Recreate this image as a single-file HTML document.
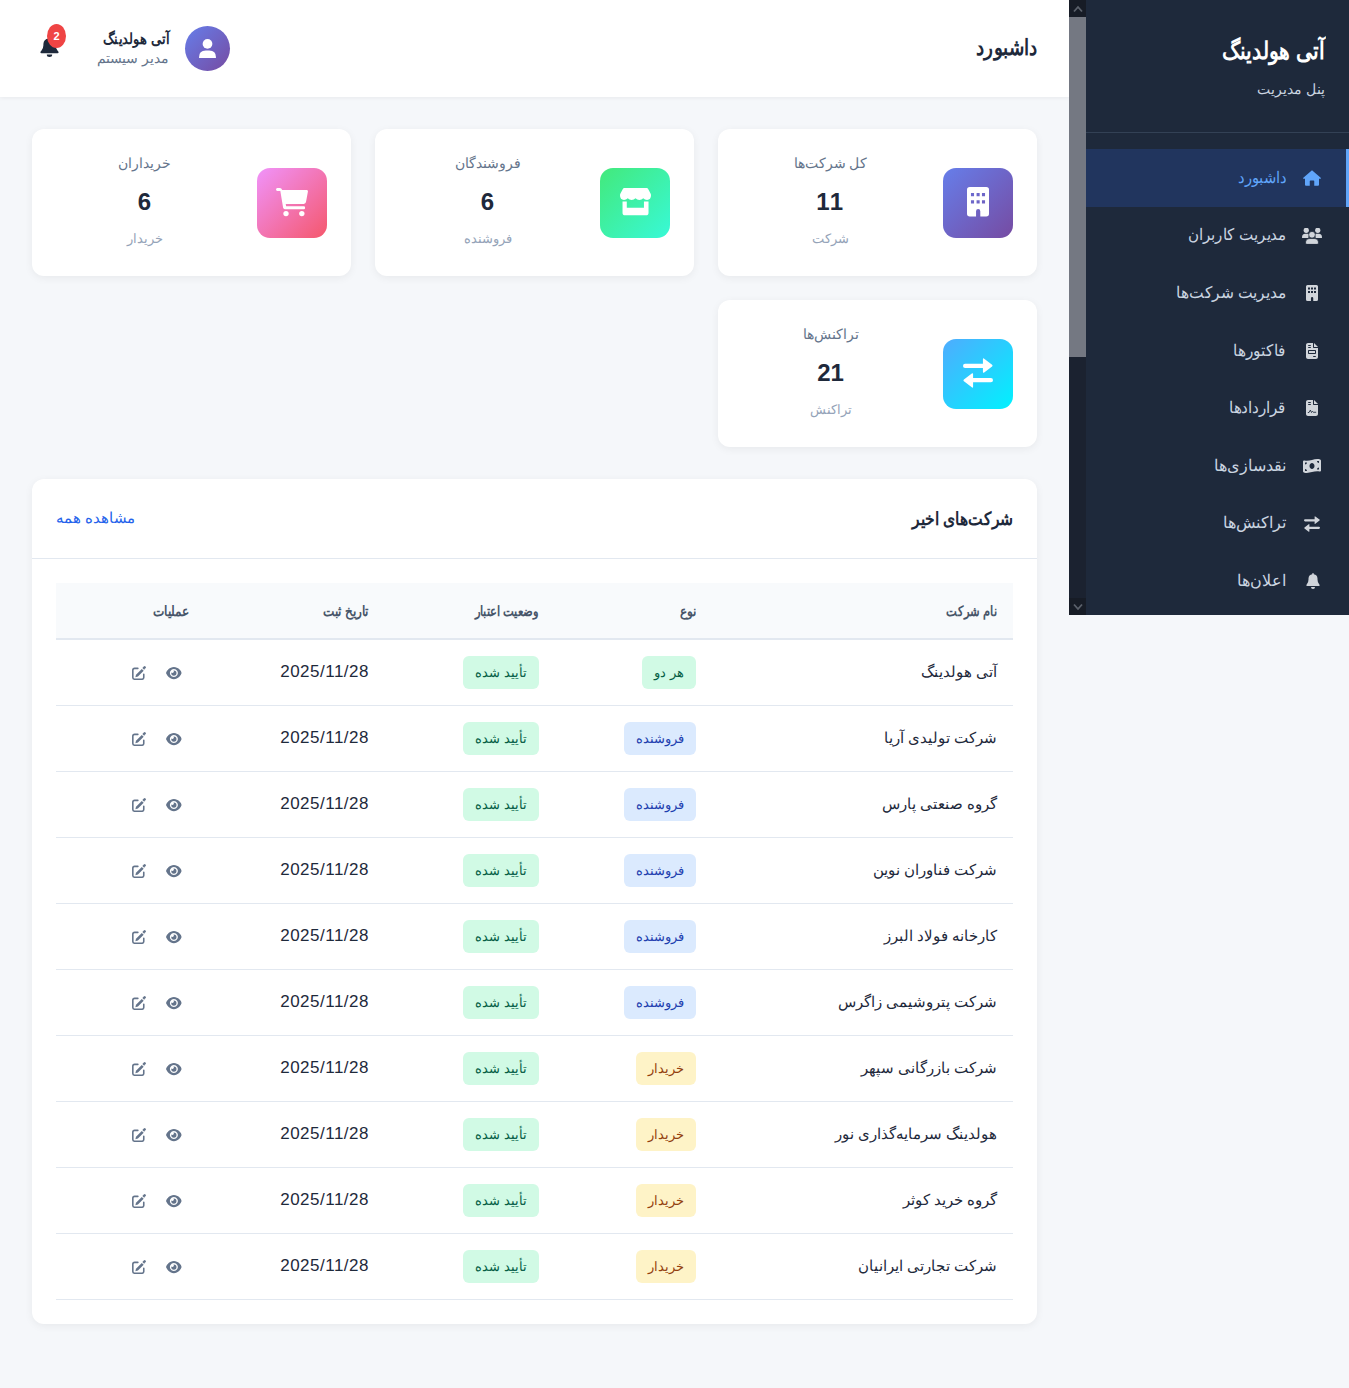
<!DOCTYPE html>
<html lang="fa" dir="rtl">
<head>
<meta charset="utf-8">
<title>داشبورد</title>
<style>
*{box-sizing:border-box;margin:0;padding:0}
html,body{width:1349px;height:1388px;overflow:hidden}
body{background:#f5f7fa;font-family:"Liberation Sans",sans-serif;color:#1e293b;position:relative;direction:rtl}
svg{display:block}
.sx{display:inline-block;transform-origin:100% 50%}
/* sidebar */
.sidebar{position:absolute;left:1086px;top:0;width:263px;height:615px;background:#1e293b;color:#cbd5e1}
.sb-title{position:absolute;right:24px;top:33px;font-size:24px;font-weight:bold;color:#fff;line-height:36px;white-space:nowrap}
.sb-sub{position:absolute;right:24px;top:77px;font-size:14px;color:#cbd5e1;line-height:24px;white-space:nowrap}
.sb-line{position:absolute;left:0;right:0;top:132px;height:1px;background:#334155}
.menu{position:absolute;left:0;right:0;top:149px}
.mi{height:57.6px;position:relative;font-size:16px;color:#cbd5e1;white-space:nowrap}
.mi svg{position:absolute;fill:#d1d5db}
.mi .tx{position:absolute;right:63px;top:50%;transform:translateY(-50%);line-height:24px}
.mi.active{background:#21355e;color:#60a5fa}
.mi.active svg{fill:#60a5fa}
.mi.active:after{content:"";position:absolute;right:0;top:0;bottom:0;width:3px;background:#60a5fa}
.scroll{position:absolute;left:1069px;top:0;width:17px;height:615px;background:#1b2230}
.scroll .up,.scroll .dn{position:absolute;left:0;width:17px;height:17px;background:#171c26}
.scroll .up{top:0}.scroll .dn{bottom:0}
.scroll svg{position:absolute;left:3.5px;top:4.5px;width:10px;height:8px}
.scroll .thumb{position:absolute;left:0;top:17px;width:17px;height:340px;background:#747882}
/* header */
.header{position:absolute;left:0;top:0;width:1069px;height:97px;background:#fff;box-shadow:0 1px 4px rgba(0,0,0,0.06)}
.h-title{position:absolute;right:32px;top:31px;font-size:22px;font-weight:bold;color:#1e293b;line-height:34px;white-space:nowrap}
.avatar{position:absolute;left:185px;top:26px;width:45px;height:45px;border-radius:50%;background:linear-gradient(135deg,#667eea,#764ba2)}
.avatar svg{position:absolute;left:13.6px;top:12.6px;width:17px;height:19.5px;fill:#fff}
.uname{position:absolute;right:900px;top:27px;font-size:15px;font-weight:bold;line-height:24px;white-space:nowrap}
.urole{position:absolute;right:900px;top:46px;font-size:14px;color:#64748b;line-height:24px;white-space:nowrap}
.bell{position:absolute;left:40px;top:36.7px;width:19px;height:20px;fill:#1e293b}
.badge{position:absolute;left:47px;top:24px;width:19px;height:24px;border-radius:50%;background:#ef4444;color:#fff;font-size:11px;font-weight:bold;line-height:24px;text-align:center}
/* stat cards */
.card{position:absolute;background:#fff;border-radius:12px;box-shadow:0 2px 8px rgba(0,0,0,0.06)}
.stat{width:319px;height:147px}
.stat .icon{position:absolute;right:24px;top:39px;width:70px;height:70px;border-radius:13px}
.stat .icon svg{position:absolute;fill:#fff}
.stat .txt{position:absolute;left:24px;right:118px;top:0;bottom:0;text-align:center}
.stat .lbl{position:absolute;left:0;right:0;top:22px;font-size:14px;color:#64748b;line-height:24px;white-space:nowrap}
.stat .num{position:absolute;left:0;right:0;top:55px;font-size:24px;font-weight:bold;color:#1e293b;line-height:36px}
.stat .sub{position:absolute;left:0;right:0;top:98px;font-size:13px;color:#94a3b8;line-height:24px;white-space:nowrap}
/* table card */
.tcard{left:32px;top:479px;width:1005px;height:845px}
.tc-head{position:absolute;left:0;right:0;top:0;height:80px;border-bottom:1px solid #e2e8f0}
.tc-title{position:absolute;right:24px;top:26px;font-size:18px;font-weight:bold;line-height:28px;white-space:nowrap}
.tc-link{position:absolute;left:24px;top:27px;font-size:14.5px;color:#2563eb;line-height:24px;white-space:nowrap}
table{position:absolute;left:24px;top:104px;width:957px;border-collapse:collapse;table-layout:fixed}
th{background:#f8fafc;height:56px;font-size:14px;font-weight:bold;color:#475569;text-align:right;padding:0 16px;border-bottom:2px solid #e2e8f0;white-space:nowrap}
th .sx{transform:scaleX(0.86)}
td{height:66px;font-size:15px;color:#1e293b;text-align:right;padding:0 16px;border-bottom:1px solid #e2e8f0;white-space:nowrap}
.bd{display:inline-block;height:33px;line-height:33px;padding:0 12px;border-radius:6px;font-size:13px;vertical-align:middle}
.g{background:#d1fae5;color:#065f46}
.b{background:#dbeafe;color:#1e40af}
.y{background:#fef3c7;color:#92400e}
td.date{font-size:17px;color:#1e293b;letter-spacing:0.5px}
td.opc{position:relative}
.opc svg{position:absolute;fill:#64748b}
.opc .eye{left:110px;top:26px;width:15.75px;height:14px}
.opc .edit{left:76px;top:26px;width:14px;height:14px}
</style>
</head>
<body>
<svg width="0" height="0" style="position:absolute">
  <symbol id="i-eye" viewBox="0 0 576 512"><path fill-rule="evenodd" d="M288 32C208 32 144 68 97 112C50 155 19 207 4 243C1 251 1 261 4 269C19 305 50 357 97 400C144 444 208 480 288 480C368 480 432 444 479 400C526 357 557 305 572 269C575 261 575 251 572 243C557 207 526 155 479 112C432 68 368 32 288 32ZM288 112A144 144 0 1 0 288.1 112Z"/><path d="M288 160A96 96 0 1 1 192 256C192 250 193 245 194 240C204 250 218 256 234 256C264 256 288 232 288 202C288 186 282 172 272 162C277 161 283 160 288 160Z"/></symbol>
  <symbol id="i-edit" viewBox="0 0 512 512"><path d="M214 88H98Q30 88 30 156V416Q30 484 98 484H362Q430 484 430 416V300" fill="none" stroke="#64748b" stroke-width="58" stroke-linecap="round"/><path d="M122 412L146 316L356 106L428 178L218 388Z"/><path d="M380 70L430 20Q462 -12 494 20Q526 52 494 84L444 134Z"/></symbol>
</svg>

<div class="header">
  <div class="h-title"><span class="sx" style="transform:scaleX(0.835)">داشبورد</span></div>
  <div class="avatar"><svg viewBox="0 0 448 512"><circle cx="224" cy="128" r="128"/><path d="M30 512H418Q448 512 448 482Q448 304 270 304H178Q0 304 0 482Q0 512 30 512Z"/></svg></div>
  <div class="uname"><span class="sx" style="transform:scaleX(0.87)">آتی هولدینگ</span></div>
  <div class="urole">مدیر سیستم</div>
  <svg class="bell" viewBox="0 0 448 512" preserveAspectRatio="none"><path d="M224 0Q248 0 248 24V40Q360 58 368 176V208Q368 288 416 352L432 374Q450 408 414 416H34Q-2 408 16 374L32 352Q80 288 80 208V176Q88 58 200 40V24Q200 0 224 0Z"/><path d="M288 448Q288 512 224 512Q160 512 160 448Z"/></svg>
  <div class="badge">2</div>
</div>

<div class="card stat" style="left:718px;top:129px">
  <div class="icon" style="background:linear-gradient(135deg,#667eea,#764ba2)"><svg viewBox="0 0 384 512" style="left:24px;top:19.3px;width:22px;height:29.5px"><path fill-rule="evenodd" d="M48 0H336Q384 0 384 48V464Q384 512 336 512H232V420Q232 384 195 384Q158 384 158 420V512H48Q0 512 0 464V48Q0 0 48 0ZM69 102V158H123V102ZM167 102V158H221V102ZM261 102V158H315V102ZM69 229V285H123V229ZM167 229V285H221V229ZM261 229V285H315V229Z"/></svg></div>
  <div class="txt"><div class="lbl">کل شرکت‌ها</div><div class="num" style="letter-spacing:1.5px">11</div><div class="sub">شرکت</div></div>
</div>
<div class="card stat" style="left:375px;top:129px">
  <div class="icon" style="background:linear-gradient(135deg,#43e97b,#38f9d7)"><svg viewBox="0 0 576 512" style="left:20px;top:19.3px;width:31px;height:29px"><path d="M78 5H498Q510 5 518 16L570 110Q576 125 576 140Q576 226 502 226Q462 226 432 196Q402 226 360 226Q318 226 288 196Q258 226 216 226Q174 226 144 196Q114 226 74 226Q0 226 0 140Q0 125 6 110L58 16Q66 5 78 5Z"/><path d="M47 256H126V374H445V256H530V464Q530 512 482 512H95Q47 512 47 464Z"/></svg></div>
  <div class="txt"><div class="lbl">فروشندگان</div><div class="num">6</div><div class="sub">فروشنده</div></div>
</div>
<div class="card stat" style="left:32px;top:129px">
  <div class="icon" style="background:linear-gradient(135deg,#f093fb,#f5576c)"><svg viewBox="0 0 576 512" style="left:18.7px;top:19px;width:32px;height:30px"><path d="M24 5H70Q100 5 108 34L112 39H548Q580 39 574 70L540 258Q534 290 500 290H175L182 332H500Q524 332 524 358Q524 385 500 385H160Q135 385 128 360L78 58H24Q0 58 0 32Q0 5 24 5Z"/><circle cx="180" cy="464" r="48"/><circle cx="465" cy="464" r="48"/></svg></div>
  <div class="txt"><div class="lbl">خریداران</div><div class="num">6</div><div class="sub">خریدار</div></div>
</div>
<div class="card stat" style="left:718px;top:300px">
  <div class="icon" style="background:linear-gradient(135deg,#4facfe,#00f2fe)"><svg viewBox="0 0 512 512" style="left:19.8px;top:19px;width:30px;height:30px"><path d="M36 100H340V22Q340 -4 362 12L496 114Q512 129 496 144L362 246Q340 262 340 236V172H36Q0 172 0 136Q0 100 36 100Z"/><path d="M476 342H172V276Q172 250 150 266L16 368Q0 383 16 398L150 500Q172 516 172 490V414H476Q512 414 512 378Q512 342 476 342Z"/></svg></div>
  <div class="txt"><div class="lbl">تراکنش‌ها</div><div class="num">21</div><div class="sub">تراکنش</div></div>
</div>

<div class="card tcard">
  <div class="tc-head">
    <div class="tc-title"><span class="sx" style="transform:scaleX(0.86)">شرکت‌های اخیر</span></div>
    <div class="tc-link">مشاهده همه</div>
  </div>
  <table>
    <colgroup><col style="width:301px"><col style="width:157px"><col style="width:170px"><col style="width:180px"><col style="width:149px"></colgroup>
    <thead><tr><th><span class="sx" style="transform:scaleX(0.816)">نام شرکت</span></th><th><span class="sx">نوع</span></th><th><span class="sx" style="transform:scaleX(0.816)">وضعیت اعتبار</span></th><th><span class="sx">تاریخ ثبت</span></th><th><span class="sx">عملیات</span></th></tr></thead>
    <tbody>
<tr><td>آتی هولدینگ</td><td><span class="bd g">هر دو</span></td><td><span class="bd g">تأیید شده</span></td><td class="date">2025/11/28</td><td class="opc"><svg class="eye" viewBox="0 0 576 512"><use href="#i-eye"/></svg><svg class="edit" viewBox="0 0 512 512"><use href="#i-edit"/></svg></td></tr>
<tr><td>شرکت تولیدی آریا</td><td><span class="bd b">فروشنده</span></td><td><span class="bd g">تأیید شده</span></td><td class="date">2025/11/28</td><td class="opc"><svg class="eye" viewBox="0 0 576 512"><use href="#i-eye"/></svg><svg class="edit" viewBox="0 0 512 512"><use href="#i-edit"/></svg></td></tr>
<tr><td>گروه صنعتی پارس</td><td><span class="bd b">فروشنده</span></td><td><span class="bd g">تأیید شده</span></td><td class="date">2025/11/28</td><td class="opc"><svg class="eye" viewBox="0 0 576 512"><use href="#i-eye"/></svg><svg class="edit" viewBox="0 0 512 512"><use href="#i-edit"/></svg></td></tr>
<tr><td>شرکت فناوران نوین</td><td><span class="bd b">فروشنده</span></td><td><span class="bd g">تأیید شده</span></td><td class="date">2025/11/28</td><td class="opc"><svg class="eye" viewBox="0 0 576 512"><use href="#i-eye"/></svg><svg class="edit" viewBox="0 0 512 512"><use href="#i-edit"/></svg></td></tr>
<tr><td>کارخانه فولاد البرز</td><td><span class="bd b">فروشنده</span></td><td><span class="bd g">تأیید شده</span></td><td class="date">2025/11/28</td><td class="opc"><svg class="eye" viewBox="0 0 576 512"><use href="#i-eye"/></svg><svg class="edit" viewBox="0 0 512 512"><use href="#i-edit"/></svg></td></tr>
<tr><td>شرکت پتروشیمی زاگرس</td><td><span class="bd b">فروشنده</span></td><td><span class="bd g">تأیید شده</span></td><td class="date">2025/11/28</td><td class="opc"><svg class="eye" viewBox="0 0 576 512"><use href="#i-eye"/></svg><svg class="edit" viewBox="0 0 512 512"><use href="#i-edit"/></svg></td></tr>
<tr><td>شرکت بازرگانی سپهر</td><td><span class="bd y">خریدار</span></td><td><span class="bd g">تأیید شده</span></td><td class="date">2025/11/28</td><td class="opc"><svg class="eye" viewBox="0 0 576 512"><use href="#i-eye"/></svg><svg class="edit" viewBox="0 0 512 512"><use href="#i-edit"/></svg></td></tr>
<tr><td>هولدینگ سرمایه‌گذاری نور</td><td><span class="bd y">خریدار</span></td><td><span class="bd g">تأیید شده</span></td><td class="date">2025/11/28</td><td class="opc"><svg class="eye" viewBox="0 0 576 512"><use href="#i-eye"/></svg><svg class="edit" viewBox="0 0 512 512"><use href="#i-edit"/></svg></td></tr>
<tr><td>گروه خرید کوثر</td><td><span class="bd y">خریدار</span></td><td><span class="bd g">تأیید شده</span></td><td class="date">2025/11/28</td><td class="opc"><svg class="eye" viewBox="0 0 576 512"><use href="#i-eye"/></svg><svg class="edit" viewBox="0 0 512 512"><use href="#i-edit"/></svg></td></tr>
<tr><td>شرکت تجارتی ایرانیان</td><td><span class="bd y">خریدار</span></td><td><span class="bd g">تأیید شده</span></td><td class="date">2025/11/28</td><td class="opc"><svg class="eye" viewBox="0 0 576 512"><use href="#i-eye"/></svg><svg class="edit" viewBox="0 0 512 512"><use href="#i-edit"/></svg></td></tr>
    </tbody>
  </table>
</div>

<div class="scroll">
  <div class="up"><svg viewBox="0 0 10 8"><path d="M1 6.5L5 2L9 6.5" fill="none" stroke="#5b616b" stroke-width="1.8"/></svg></div>
  <div class="thumb"></div>
  <div class="dn"><svg viewBox="0 0 10 8"><path d="M1 1.5L5 6L9 1.5" fill="none" stroke="#5b616b" stroke-width="1.8"/></svg></div>
</div>
<div class="sidebar">
  <div class="sb-title"><span class="sx" style="transform:scaleX(0.85)">آتی هولدینگ</span></div>
  <div class="sb-sub">پنل مدیریت</div>
  <div class="sb-line"></div>
  <div class="menu">
    <div class="mi active"><svg viewBox="0 0 576 512" style="right:28px;top:21px;width:18px;height:16px"><path d="M288 8L566 250Q580 264 566 280H512V472Q512 504 480 504H360V360Q360 336 336 336H240Q216 336 216 360V504H96Q64 504 64 472V280H10Q-4 264 10 250Z"/></svg><span class="tx"><span class="sx" style="transform:scaleX(0.92)">داشبورد</span></span></div>
    <div class="mi"><svg viewBox="0 0 640 512" style="right:27px;top:21.5px;width:20px;height:16px"><circle cx="136" cy="74" r="83"/><circle cx="504" cy="74" r="83"/><path d="M0 300Q0 182 104 182H180Q226 182 250 208Q200 250 200 320H20Q0 320 0 300Z"/><path d="M640 300Q640 182 536 182H460Q414 182 390 208Q440 250 440 320H620Q640 320 640 300Z"/><circle cx="320" cy="216" r="107" stroke="#1e293b" stroke-width="24"/><path d="M112 480Q112 337 250 337H390Q528 337 528 480Q528 524 484 524H156Q112 524 112 480Z" stroke="#1e293b" stroke-width="24"/></svg><span class="tx"><span class="sx" style="transform:scaleX(0.945)">مدیریت کاربران</span></span></div>
    <div class="mi"><svg viewBox="0 0 384 512" style="right:31px;top:20.8px;width:12px;height:16px"><path fill-rule="evenodd" d="M48 0H336Q384 0 384 48V464Q384 512 336 512H232V420Q232 384 195 384Q158 384 158 420V512H48Q0 512 0 464V48Q0 0 48 0ZM64 80V144H128V80ZM160 80V144H224V80ZM256 80V144H320V80ZM64 192V256H128V192ZM160 192V256H224V192ZM256 192V256H320V192Z"/></svg><span class="tx"><span class="sx" style="transform:scaleX(0.97)">مدیریت شرکت‌ها</span></span></div>
    <div class="mi"><svg viewBox="0 0 384 512" style="right:31px;top:21px;width:12px;height:16px"><path fill-rule="evenodd" d="M64 0C28.7 0 0 28.7 0 64V448C0 483.3 28.7 512 64 512H320C355.3 512 384 483.3 384 448V160H256C238.3 160 224 145.7 224 128V0H64ZM256 0V128H384L256 0ZM80 64H144C152.8 64 160 71.2 160 80S152.8 96 144 96H80C71.2 96 64 88.8 64 80S71.2 64 80 64ZM80 128H144C152.8 128 160 135.2 160 144S152.8 160 144 160H80C71.2 160 64 152.8 64 144S71.2 128 80 128ZM96 224H288C305.7 224 320 238.3 320 256V320C320 337.7 305.7 352 288 352H96C78.3 352 64 337.7 64 320V256C64 238.3 78.3 224 96 224ZM96 256V320H288V256H96ZM240 416H304C312.8 416 320 423.2 320 432S312.8 448 304 448H240C231.2 448 224 440.8 224 432S231.2 416 240 416Z"/></svg><span class="tx"><span class="sx" style="transform:scaleX(0.96)">فاکتورها</span></span></div>
    <div class="mi"><svg viewBox="0 0 384 512" style="right:31px;top:21px;width:12px;height:16px"><path fill-rule="evenodd" d="M64 0C28.7 0 0 28.7 0 64V448C0 483.3 28.7 512 64 512H320C355.3 512 384 483.3 384 448V160H256C238.3 160 224 145.7 224 128V0H64ZM256 0V128H384L256 0ZM80 64H144C152.8 64 160 71.2 160 80S152.8 96 144 96H80C71.2 96 64 88.8 64 80S71.2 64 80 64ZM80 128H144C152.8 128 160 135.2 160 144S152.8 160 144 160H80C71.2 160 64 152.8 64 144S71.2 128 80 128Z"/><path d="M72 400H96L140 322L176 400L206 362L232 392H312" fill="none" stroke="#1e293b" stroke-width="28" stroke-linejoin="round" stroke-linecap="round"/></svg><span class="tx"><span class="sx" style="transform:scaleX(0.947)">قراردادها</span></span></div>
    <div class="mi"><svg viewBox="0 0 576 512" style="right:28px;top:21.5px;width:18px;height:16px"><path fill-rule="evenodd" d="M0 112.5V422.3C0 440.3 10.1 457.3 27 463.6C114 496.1 201 473.9 288 451.7C367.8 431.4 447.6 411 527.3 432.8C550.3 439.1 576 423.3 576 399.4V89.7C576 71.7 565.9 54.7 549 48.4C462 15.9 375 38.1 288 60.3C208.2 80.6 128.4 100.9 48.7 79.1C25.6 72.8 0 88.6 0 112.5ZM288 352C243.8 352 208 309 208 256S243.8 160 288 160S368 203 368 256S332.2 352 288 352ZM64 352C99.3 352 128 380.7 128 416H64V352ZM128 144C128 179.3 99.3 208 64 208V144H128ZM512 304V368H448C448 332.7 476.7 304 512 304ZM448 96H512V160C476.7 160 448 131.3 448 96Z"/></svg><span class="tx">نقدسازی‌ها</span></div>
    <div class="mi"><svg viewBox="0 0 512 512" style="right:29px;top:21px;width:16px;height:16px"><path d="M36 100H340V22Q340 -4 362 12L496 114Q512 129 496 144L362 246Q340 262 340 236V172H36Q0 172 0 136Q0 100 36 100Z"/><path d="M476 342H172V276Q172 250 150 266L16 368Q0 383 16 398L150 500Q172 516 172 490V414H476Q512 414 512 378Q512 342 476 342Z"/></svg><span class="tx">تراکنش‌ها</span></div>
    <div class="mi"><svg viewBox="0 0 448 512" style="right:29px;top:21px;width:14px;height:16px"><path d="M224 0Q248 0 248 24V40Q360 58 368 176V208Q368 288 416 352L432 374Q450 408 414 416H34Q-2 408 16 374L32 352Q80 288 80 208V176Q88 58 200 40V24Q200 0 224 0Z"/><path d="M288 448Q288 512 224 512Q160 512 160 448Z"/></svg><span class="tx">اعلان‌ها</span></div>
  </div>
</div>

</body>
</html>
